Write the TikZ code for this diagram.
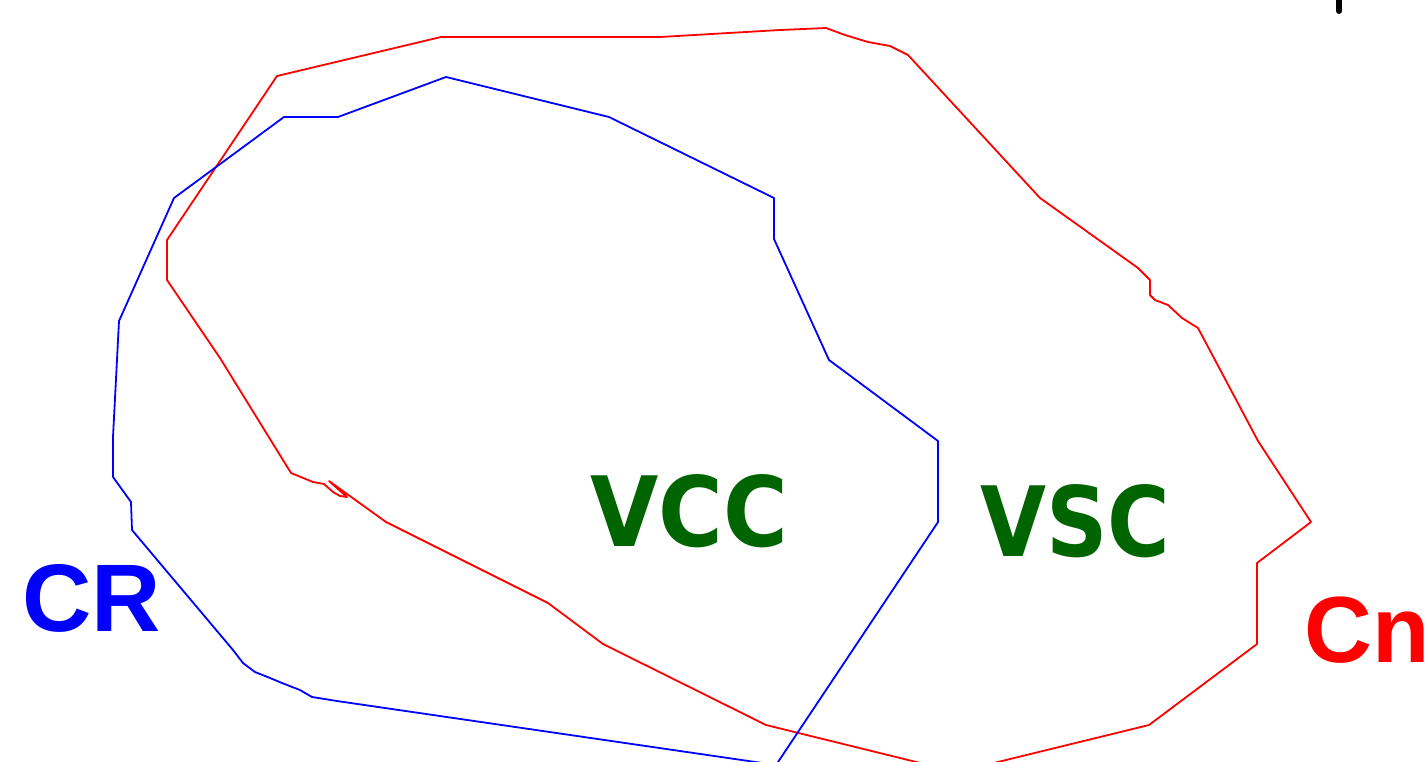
\documentclass[tikz,border=0pt]{standalone}
\usepackage{fontspec}
\setmainfont{Liberation Sans}
\newfontfamily\dvsans{DejaVu Sans}
\definecolor{vgreen}{RGB}{0,100,0}
\begin{document}
\begin{tikzpicture}[x=1pt,y=-1pt,
  setline/.style={line width=1.8pt, line join=round},
  lbl/.style={inner sep=0pt, anchor=base west, font=\bfseries\fontsize{96}{100}\selectfont},
  glbl/.style={inner sep=0pt, anchor=base west, text=vgreen, font=\dvsans\bfseries\fontsize{97}{100}\selectfont}]
\useasboundingbox (0,0) rectangle (1428,761);
\clip (0,0) rectangle (1428,761);
% red set Cn
\draw[setline, red] (277,76) -- (441,37) -- (660,37) -- (780,30) -- (826,28) -- (845,35) -- (868,42) -- (890,46) -- (908,55)
  -- (1040,198) -- (1138,268) -- (1150,280) -- (1150,295) -- (1155,300) -- (1168,305) -- (1182,318) -- (1198,328)
  -- (1258,441) -- (1311,522) -- (1257,563) -- (1257,644) -- (1149,725) -- (957,772) -- (766,725) -- (603,644)
  -- (548,603) -- (386,522) -- (329,481) -- (347,497) -- (340,496) -- (333,492) -- (324,484) -- (313,482) -- (291,473)
  -- (220,358) -- (167,280) -- (167,240) -- cycle;
% blue set CR
\draw[setline, blue] (446,77) -- (609,117) -- (774,198) -- (774,239) -- (829,360) -- (938,441) -- (938,522) -- (776,765)
  -- (337,701) -- (312,697) -- (300,690) -- (282,683) -- (270,678) -- (255,672) -- (243,663) -- (233,650)
  -- (132,530) -- (131,502) -- (113,477) -- (113,437) -- (119,321) -- (174,198) -- (284,117) -- (338,117) -- cycle;
% black mark top right
\draw[line width=6pt, line cap=round] (1339,-5) -- (1339,11);
% labels
\node[lbl, text=blue] (CR) at (22,631) {CR};
\node[lbl, text=red, font=\bfseries\fontsize{94}{100}\selectfont] (Cn) at (1304,662) {Cn};
\node[glbl, xscale=0.91] (VCC) at (590,546) {VCC};
\node[glbl, xscale=0.88] (VSC) at (980,556) {VSC};
\end{tikzpicture}
\end{document}
